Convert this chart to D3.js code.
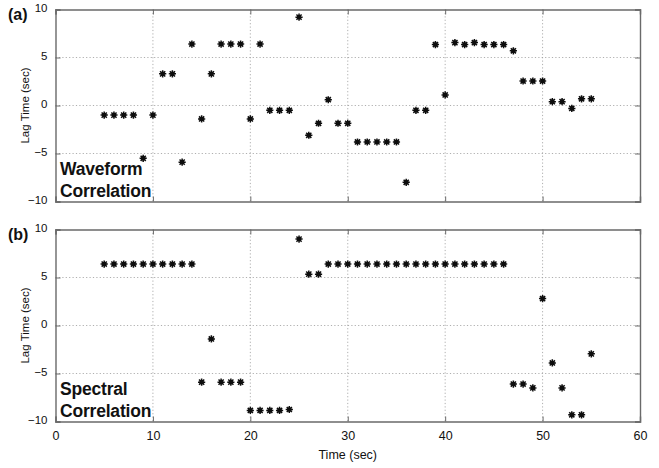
<!DOCTYPE html>
<html>
<head>
<meta charset="utf-8">
<script src="https://cdn.jsdelivr.net/npm/d3@7"></script>
<style>
  html, body { margin: 0; padding: 0; background: #fff; }
  svg { display: block; }
  text { font-family: "Liberation Sans", Arial, Helvetica, sans-serif; fill: #111; }
</style>
</head>
<body>
<svg id="chart" width="659" height="468"></svg>
<script>
// Time samples (sec) and lag estimates (sec) for each method
const waveTime = [5,6,7,8,9,10,11,12,13,14,15,16,17,18,19,20,21,22,23,24,25,26,27,28,29,30,
                  31,32,33,34,35,36,37,38,39,40,41,42,43,44,45,46,47,48,49,50,51,52,53,54,55];
const waveLag  = [-1,-1,-1,-1,-5.5,-1,3.3,3.3,-5.9,6.4,-1.4,3.3,6.4,6.4,6.4,-1.4,6.4,-0.5,-0.5,-0.5,9.2,-3.1,-1.85,0.6,-1.85,-1.85,
                  -3.8,-3.8,-3.8,-3.8,-3.8,-8,-0.5,-0.5,6.35,1.1,6.55,6.35,6.55,6.35,6.35,6.35,5.7,2.55,2.55,2.55,0.4,0.4,-0.3,0.7,0.7];

const specTime = [5,6,7,8,9,10,11,12,13,14,15,16,17,18,19,20,21,22,23,24,25,26,27,28,29,30,
                  31,32,33,34,35,36,37,38,39,40,41,42,43,44,45,46,47,48,49,50,51,52,53,54,55];
const specLag  = [6.4,6.4,6.4,6.4,6.4,6.4,6.4,6.4,6.4,6.4,-5.9,-1.4,-5.9,-5.9,-5.9,-8.85,-8.85,-8.85,-8.85,-8.75,9.0,5.35,5.35,6.4,6.4,6.4,
                  6.4,6.4,6.4,6.4,6.4,6.4,6.4,6.4,6.4,6.4,6.4,6.4,6.4,6.4,6.4,6.4,-6.1,-6.1,-6.5,2.8,-3.9,-6.5,-9.3,-9.3,-2.95];

const xTicks = [0,10,20,30,40,50,60];
const yTicks = [-10,-5,0,5,10];
const panelTags = ["(a)", "(b)"];
const panelNames = [["Waveform", "Correlation"], ["Spectral", "Correlation"]];
const xLabel = "Time (sec)";
const yLabel = "Lag Time (sec)";

const svg = d3.select("#chart");

// soft edge so markers read as small dark blobs
const defs = svg.append("defs");
defs.append("filter").attr("id", "soft")
  .append("feGaussianBlur").attr("stdDeviation", 0.55);

const left = 55.5, right = 640;
const panels = [
  { top: 9.5, bottom: 201.5, time: waveTime, lag: waveLag, showX: true },
  { top: 229.5, bottom: 421.5, time: specTime, lag: specLag, showX: true }
];

const x = d3.scaleLinear().domain([0, 60]).range([left, right]);

// MATLAB-style '*' marker: plus and cross strokes
const markerPath = (() => {
  const r = 3.6, d = r * 0.72;
  return `M${-r},0L${r},0M0,${-r}L0,${r}M${-d},${-d}L${d},${d}M${-d},${d}L${d},${-d}`;
})();

panels.forEach((p, i) => {
  const y = d3.scaleLinear().domain([-10, 10]).range([p.bottom, p.top]);
  const g = svg.append("g");

  // dotted grid
  const grid = g.append("g").attr("stroke", "#9a9a9a").attr("stroke-width", 0.8)
    .attr("stroke-dasharray", "1.2,2.2");
  grid.selectAll(".gx").data(xTicks.slice(1, -1)).join("line")
    .attr("x1", d => x(d)).attr("x2", d => x(d))
    .attr("y1", p.top).attr("y2", p.bottom);
  grid.selectAll(".gy").data(yTicks.slice(1, -1)).join("line")
    .attr("x1", left).attr("x2", right)
    .attr("y1", d => y(d)).attr("y2", d => y(d));

  // axes with inward ticks on all four sides
  const frameColor = "#6a6a6a";
  const axL = g.append("g").attr("transform", `translate(${left},0)`)
    .call(d3.axisLeft(y).tickValues(yTicks).tickSize(-5).tickPadding(8).tickFormat(d3.format("d")));
  const axR = g.append("g").attr("transform", `translate(${right},0)`)
    .call(d3.axisRight(y).tickValues(yTicks).tickSize(-5).tickFormat(""));
  const axT = g.append("g").attr("transform", `translate(0,${p.top})`)
    .call(d3.axisTop(x).tickValues(xTicks).tickSize(-5).tickFormat(""));
  const axB = g.append("g").attr("transform", `translate(0,${p.bottom})`)
    .call(d3.axisBottom(x).tickValues(xTicks).tickSize(-5).tickPadding(8)
      .tickFormat(i === 1 ? d3.format("d") : ""));
  [axL, axR, axT, axB].forEach(a => {
    a.select(".domain").attr("stroke", frameColor).attr("stroke-width", 1.4);
    a.selectAll(".tick line").attr("stroke", frameColor).attr("stroke-width", 1);
    a.selectAll(".tick text").attr("font-size", 11.5).attr("fill", "#111")
      .attr("font-family", "'Liberation Sans', Arial, sans-serif");
  });
  axL.selectAll(".tick text").attr("dy", "0.15em");
  axB.selectAll(".tick text").attr("font-size", 12.5).attr("dy", "0.85em");

  // y label
  g.append("text")
    .attr("transform", `translate(29,${(p.top + p.bottom) / 2}) rotate(-90)`)
    .attr("text-anchor", "middle").attr("font-size", 11.5)
    .text(yLabel);

  // panel tag
  g.append("text").attr("x", 8).attr("y", p.top + 10.5)
    .attr("font-size", 16).attr("font-weight", "bold").text(panelTags[i]);

  // method name in lower-left corner
  const nm = g.append("text").attr("font-size", 17.5).attr("font-weight", "bold")
    .attr("letter-spacing", "-0.2");
  nm.append("tspan").attr("x", 60).attr("y", p.bottom - 27).text(panelNames[i][0]);
  nm.append("tspan").attr("x", 60).attr("y", p.bottom - 5).text(panelNames[i][1]);

  // markers
  const pts = p.time.map((t, k) => ({ t, v: p.lag[k] }));
  const mk = g.append("g").attr("filter", "url(#soft)");
  mk.selectAll("g.m").data(pts).join("g")
    .attr("class", "m")
    .attr("transform", d => `translate(${x(d.t)},${y(d.v)})`)
    .each(function () {
      const s = d3.select(this);
      s.append("circle").attr("r", 2.3).attr("fill", "#111");
      s.append("path").attr("d", markerPath).attr("stroke", "#111")
        .attr("stroke-width", 1.5).attr("fill", "none");
    });
});

// x label
svg.append("text").attr("x", (left + right) / 2).attr("y", 459)
  .attr("text-anchor", "middle").attr("font-size", 12.5).text(xLabel);
</script>
</body>
</html>
